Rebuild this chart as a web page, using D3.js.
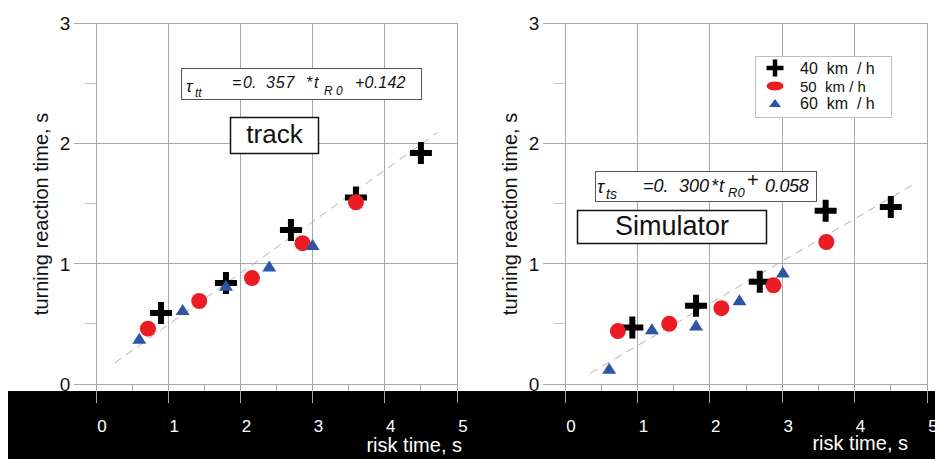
<!DOCTYPE html>
<html><head><meta charset="utf-8">
<script src="https://cdn.jsdelivr.net/npm/d3@7"></script>
<style>
body{margin:0;background:#fff}
svg{display:block}
text{font-family:"Liberation Sans",Arial,Helvetica,sans-serif}
</style>
</head><body>
<svg id="chart" width="935" height="459"></svg>
<script>
// Turning reaction time against risk time, by approach speed, on the track and in the simulator
const xTicks = [0, 1, 2, 3, 4, 5];
const xMinor = [0.5, 1.5, 2.5, 3.5, 4.5];
const yTicks = [0, 1, 2, 3];
const yMinor = [0.5, 1.5, 2.5];
const speedLabels = ["40  km  / h", "50  km / h", "60  km  / h"];

// Test track
const trackRisk40  = [0.90, 1.80, 2.70, 3.60, 4.50];
const trackReact40 = [0.59, 0.84, 1.28, 1.55, 1.92];
const trackRisk50  = [0.72, 1.43, 2.16, 2.86, 3.60];
const trackReact50 = [0.46, 0.69, 0.88, 1.17, 1.51];
const trackRisk60  = [0.60, 1.20, 1.80, 2.40, 3.00];
const trackReact60 = [0.38, 0.62, 0.82, 0.98, 1.16];
const trackFitRisk  = [0.26, 4.73];
const trackFitReact = [0.175, 2.09];

// Driving simulator
const simRisk40  = [0.93, 1.81, 2.69, 3.60, 4.50];
const simReact40 = [0.47, 0.65, 0.85, 1.44, 1.47];
const simRisk50  = [0.73, 1.44, 2.16, 2.88, 3.61];
const simReact50 = [0.44, 0.50, 0.63, 0.82, 1.18];
const simRisk60  = [0.61, 1.20, 1.81, 2.41, 3.01];
const simReact60 = [0.13, 0.46, 0.49, 0.70, 0.93];
const simFitRisk  = [0.35, 4.79];
const simFitReact = [0.09, 1.65];

const svg = d3.select("#chart");
const GRID = "#a8a8a8";
const RED = "#ec1c24";
const BLUE = "#2e55a5";

const crossPath = (w, t) => {
  const a = w / 2, b = t / 2;
  return `M${-b},${-a}H${b}V${-b}H${a}V${b}H${b}V${a}H${-b}V${b}H${-a}V${-b}H${-b}Z`;
};
const triPath = (w, h) => `M0,${-h / 2}L${w / 2},${h / 2}L${-w / 2},${h / 2}Z`;

const yScale = d3.scaleLinear().domain([0, 3]).range([384, 23]);

const panels = [
  { x0: 96, x1: 457, labX: 48, riskEnd: 462, riskY: 452,
    series: [[trackRisk40, trackReact40], [trackRisk50, trackReact50], [trackRisk60, trackReact60]],
    fit: [trackFitRisk, trackFitReact] },
  { x0: 565, x1: 927, labX: 517, riskEnd: 908, riskY: 450,
    series: [[simRisk40, simReact40], [simRisk50, simReact50], [simRisk60, simReact60]],
    fit: [simFitRisk, simFitReact] }
];

// y tick labels and titles (the band below clips the "0")
panels.forEach(p => {
  p.x = d3.scaleLinear().domain([0, 5]).range([p.x0, p.x1]);
  const g = svg.append("g");
  g.selectAll("text.yt").data(yTicks).join("text")
    .attr("x", p.x0 - 31).attr("y", d => yScale(d) + 7)
    .attr("text-anchor", "middle").attr("font-size", 19).attr("fill", "#111")
    .text(d => d);
  g.append("text")
    .attr("transform", `translate(${p.labX},214) rotate(-90)`)
    .attr("text-anchor", "middle").attr("font-size", 20).attr("fill", "#111")
    .text("turning reaction time, s");
});

// black band under the plots
svg.append("rect").attr("x", 8).attr("y", 391).attr("width", 927).attr("height", 68).attr("fill", "#000");

panels.forEach(p => {
  const x = p.x;
  const g = svg.append("g");

  g.selectAll("line.hg").data(yTicks).join("line")
    .attr("x1", p.x0 - 22).attr("x2", p.x1)
    .attr("y1", d => yScale(d)).attr("y2", d => yScale(d))
    .attr("stroke", GRID).attr("stroke-width", 1).attr("shape-rendering", "crispEdges");
  g.selectAll("line.hm").data(yMinor).join("line")
    .attr("x1", p.x0 - 11).attr("x2", p.x0)
    .attr("y1", d => yScale(d)).attr("y2", d => yScale(d))
    .attr("stroke", "#c4c4c4").attr("stroke-width", 1).attr("shape-rendering", "crispEdges");
  g.selectAll("line.vg").data(xTicks).join("line")
    .attr("x1", d => x(d)).attr("x2", d => x(d))
    .attr("y1", yScale(3)).attr("y2", 403)
    .attr("stroke", GRID).attr("stroke-width", 1).attr("shape-rendering", "crispEdges");
  g.selectAll("line.vm").data(xMinor).join("line")
    .attr("x1", d => x(d)).attr("x2", d => x(d))
    .attr("y1", yScale(0)).attr("y2", 391)
    .attr("stroke", GRID).attr("stroke-width", 1).attr("shape-rendering", "crispEdges");

  g.selectAll("text.xt").data(xTicks).join("text")
    .attr("x", d => x(d) + 6).attr("y", 432)
    .attr("text-anchor", "middle").attr("font-size", 17).attr("fill", "#fff")
    .text(d => d);
  g.append("text").attr("x", p.riskEnd).attr("y", p.riskY)
    .attr("text-anchor", "end").attr("font-size", 20).attr("fill", "#fff")
    .text("risk time, s");

  // fitted line
  g.append("line")
    .attr("x1", x(p.fit[0][0])).attr("y1", yScale(p.fit[1][0]))
    .attr("x2", x(p.fit[0][1])).attr("y2", yScale(p.fit[1][1]))
    .attr("stroke", "#b0b0b0").attr("stroke-width", 1).attr("stroke-dasharray", "8,6");
});

function box(x, y, w, h, stroke, sw) {
  svg.append("rect").attr("x", x).attr("y", y).attr("width", w).attr("height", h)
    .attr("fill", "#fff").attr("stroke", stroke).attr("stroke-width", sw);
}
function piece(t, x, y, size, spacing) {
  const el = svg.append("text").attr("x", x).attr("y", y).attr("font-size", size)
    .attr("font-style", "italic").attr("fill", "#111").text(t);
  if (spacing) el.attr("letter-spacing", spacing);
  return el;
}

// track equation
box(181.5, 68.5, 240, 31, "#555", 1);
piece("τ", 186, 92, 17);
piece("tt", 195, 97, 12);
piece("=", 232, 88, 16);
piece("0.", 243, 88, 16);
piece("357", 266, 88, 16, 0.8);
piece("*", 306, 88, 16);
piece("t", 314, 88, 16);
piece("R 0", 324, 95, 12);
piece("+0.142", 355, 88, 16, 0.2);

box(230.5, 117.5, 88, 36, "#111", 1.5);
svg.append("text").attr("x", 274.5).attr("y", 143).attr("text-anchor", "middle")
  .attr("font-size", 26).attr("fill", "#111").text("track");

// simulator equation
box(595.5, 171.5, 221, 30, "#555", 1);
piece("τ", 597, 193, 19);
piece("ts", 606, 199, 14);
piece("=0.", 643, 192, 18);
piece("300", 679, 192, 18);
piece("*", 711, 192, 18);
piece("t", 719, 192, 18);
piece("R0", 728, 197, 13);
svg.append("text").attr("x", 747).attr("y", 187).attr("font-size", 20).attr("fill", "#111").text("+");
piece("0.058", 765, 192, 18, -0.3);

box(577.5, 210.5, 189, 33, "#111", 1.5);
svg.append("text").attr("x", 672).attr("y", 235).attr("text-anchor", "middle")
  .attr("font-size", 27).attr("fill", "#111").text("Simulator");

// markers: crosses beneath, then circles, then triangles
panels.forEach(p => {
  const x = p.x;
  const g = svg.append("g");
  const [s40, s50, s60] = p.series;
  g.selectAll("path.cr").data(d3.zip(s40[0], s40[1])).join("path")
    .attr("class", "cr")
    .attr("d", crossPath(22, 6)).attr("fill", "#000")
    .attr("transform", d => `translate(${x(d[0])},${yScale(d[1])})`);
  g.selectAll("circle").data(d3.zip(s50[0], s50[1])).join("circle")
    .attr("cx", d => x(d[0])).attr("cy", d => yScale(d[1])).attr("r", 8).attr("fill", RED);
  g.selectAll("path.tri").data(d3.zip(s60[0], s60[1])).join("path")
    .attr("class", "tri")
    .attr("d", triPath(14, 11)).attr("fill", BLUE)
    .attr("transform", d => `translate(${x(d[0])},${yScale(d[1])})`);
});

// legend
box(755.5, 56.5, 136, 61, "#c0c0c0", 1);
const legY = [68, 86, 103];
const lg = svg.append("g");
lg.append("path").attr("d", crossPath(17, 4.5)).attr("fill", "#000").attr("transform", `translate(775,${legY[0]})`);
lg.append("ellipse").attr("cx", 775).attr("cy", legY[1]).attr("rx", 8.5).attr("ry", 4.5).attr("fill", RED);
lg.append("path").attr("d", triPath(12, 8)).attr("fill", BLUE).attr("transform", `translate(775,${legY[2]})`);
lg.selectAll("text").data(speedLabels).join("text")
  .attr("x", 800).attr("y", (d, i) => legY[i] + 6)
  .attr("font-size", (d, i) => i === 1 ? 15 : 16).attr("fill", "#111")
  .attr("xml:space", "preserve").style("white-space", "pre")
  .text(d => d);
</script>
</body></html>
